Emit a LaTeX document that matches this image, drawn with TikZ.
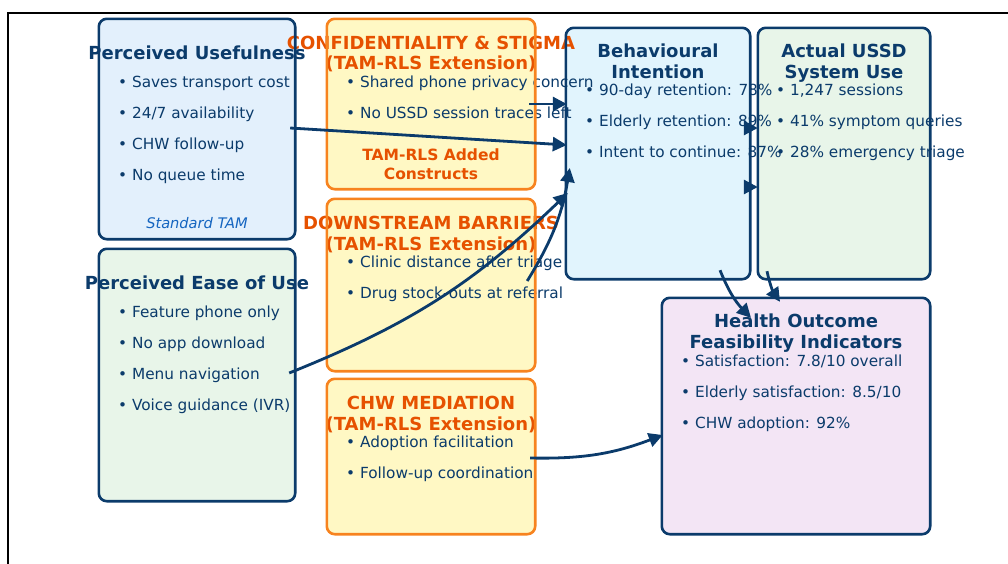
\documentclass[tikz,border=0pt]{standalone}
\usepackage{fontspec}
\setmainfont{DejaVu Sans}
\usetikzlibrary{arrows.meta,calc}
\definecolor{navy}{HTML}{0B3B6B}
\definecolor{orangeB}{HTML}{F7831F}
\definecolor{orangeT}{HTML}{E65100}
\definecolor{tamblue}{HTML}{1565C0}
\definecolor{fillPU}{HTML}{E3F0FC}
\definecolor{fillGreen}{HTML}{E8F5E9}
\definecolor{fillBI}{HTML}{E1F4FD}
\definecolor{fillHO}{HTML}{F3E5F5}
\definecolor{fillY}{HTML}{FFF8C4}
\begin{document}
\begin{tikzpicture}[x=1pt,y=-1pt,
  fbox/.style={rounded corners=8pt, inner sep=0pt},
  nborder/.style={draw=navy, line width=2.6pt, rounded corners=8pt},
  oborder/.style={draw=orangeB, line width=2.6pt, rounded corners=8pt},
  ttl/.style={font=\fontsize{18}{21}\selectfont\bfseries, text=navy, anchor=base, inner sep=0pt},
  otl/.style={ttl, text=orangeT},
  sub/.style={font=\fontsize{15.5}{18}\selectfont\bfseries, text=orangeT, anchor=base, inner sep=0pt},
  itm/.style={font=\fontsize{15.3}{18}\selectfont, text=navy, anchor=base west, inner sep=0pt},
  note/.style={font=\fontsize{14.6}{18}\selectfont\itshape, text=tamblue, anchor=base, inner sep=0pt},
  arr/.style={draw=navy, line width=2.8pt, -{Triangle[length=14pt,width=14pt]}}]
\useasboundingbox (0,0) rectangle (1008,563);
\draw[line width=1.4pt, black] (1010,13) -- (8,13) -- (8,565);

% box fills
\node[fbox, fill=fillPU, minimum width=196pt, minimum height=220pt] (pu) at (197,129) {};
\node[fbox, fill=fillGreen, minimum width=196pt, minimum height=252pt] (peou) at (197,375) {};
\node[fbox, fill=fillY, minimum width=208pt, minimum height=170pt] (conf) at (431,104) {};
\node[fbox, fill=fillY, minimum width=208pt, minimum height=172pt] (down) at (431,285) {};
\node[fbox, fill=fillY, minimum width=208pt, minimum height=155pt] (chw) at (431,456.5) {};
\node[fbox, fill=fillBI, minimum width=184pt, minimum height=251pt] (bi) at (658,153.5) {};
\node[fbox, fill=fillGreen, minimum width=172pt, minimum height=251pt] (au) at (844,153.5) {};
\node[fbox, fill=fillHO, minimum width=268pt, minimum height=236pt] (ho) at (796,416) {};

% Perceived Usefulness
\node[ttl] (puT) at (197,59) {Perceived Usefulness};
\node[itm] (pu1) at (118,87) {• Saves transport cost};
\node[itm] (pu2) at (118,118) {• 24/7 availability};
\node[itm] (pu3) at (118,149) {• CHW follow-up};
\node[itm] (pu4) at (118,180) {• No queue time};
\node[note] (puN) at (197,228) {Standard TAM};

% Perceived Ease of Use
\node[ttl] (peouT) at (197,289) {Perceived Ease of Use};
\node[itm] (pe1) at (118,317) {• Feature phone only};
\node[itm] (pe2) at (118,348) {• No app download};
\node[itm] (pe3) at (118,379) {• Menu navigation};
\node[itm] (pe4) at (118,410) {• Voice guidance (IVR)};

% Confidentiality
\node[otl] (confT1) at (431,49) {CONFIDENTIALITY \& STIGMA};
\node[otl] (confT2) at (431,69) {(TAM-RLS Extension)};
\node[itm] (cf1) at (346,87) {• Shared phone privacy concern};
\node[itm] (cf2) at (346,118) {• No USSD session traces left};
\node[sub] (add1) at (431,160) {TAM-RLS Added};
\node[sub] (add2) at (431,179) {Constructs};

% Downstream barriers
\node[otl] (downT1) at (431,229) {DOWNSTREAM BARRIERS};
\node[otl] (downT2) at (431,250) {(TAM-RLS Extension)};
\node[itm] (dn1) at (346,267) {• Clinic distance after triage};
\node[itm] (dn2) at (346,298) {• Drug stock-outs at referral};

% CHW mediation
\node[otl] (chwT1) at (431,409) {CHW MEDIATION};
\node[otl] (chwT2) at (431,430) {(TAM-RLS Extension)};
\node[itm] (ch1) at (346,447) {• Adoption facilitation};
\node[itm] (ch2) at (346,478) {• Follow-up coordination};

% Behavioural Intention
\node[ttl] (biT1) at (658,57) {Behavioural};
\node[ttl] (biT2) at (658,78) {Intention};
\node[itm] (bi1) at (585,95) {• 90-day retention: 78\%};
\node[itm] (bi2) at (585,126) {• Elderly retention: 89\%};
\node[itm] (bi3) at (585,157) {• Intent to continue: 87\%};

% Actual use
\node[ttl] (auT1) at (844,57) {Actual USSD};
\node[ttl] (auT2) at (844,78) {System Use};
\node[itm] (au1) at (776,95) {• 1,247 sessions};
\node[itm] (au2) at (776,126) {• 41\% symptom queries};
\node[itm] (au3) at (776,157) {• 28\% emergency triage};

% Health outcome
\node[ttl] (hoT1) at (796,327) {Health Outcome};
\node[ttl] (hoT2) at (796,348) {Feasibility Indicators};
\node[itm] (ho1) at (681,366) {• Satisfaction: 7.8/10 overall};
\node[itm] (ho2) at (681,397) {• Elderly satisfaction: 8.5/10};
\node[itm] (ho3) at (681,428) {• CHW adoption: 92\%};

% box borders (drawn over the texts, as in the reference)
\draw[nborder] (pu.north west) rectangle (pu.south east);
\draw[nborder] (peou.north west) rectangle (peou.south east);
\draw[oborder] (conf.north west) rectangle (conf.south east);
\draw[oborder] (down.north west) rectangle (down.south east);
\draw[oborder] (chw.north west) rectangle (chw.south east);
\draw[nborder] (bi.north west) rectangle (bi.south east);
\draw[nborder] (au.north west) rectangle (au.south east);
\draw[nborder] (ho.north west) rectangle (ho.south east);

% connectors
\draw[arr] ($(conf.east)+(-6,0)$) -- ($(bi.west |- conf.east)+(1,0)$);
\draw[arr] ($(pu.east)+(-5,-1)$) -- ($(bi.west)+(1,-8.5)$);
\draw[arr] ($(peou.east)+(-6,-2)$) to[bend right=11] ($(bi.west)+(2,39.5)$);
\draw[arr] ($(down.east)+(-8,-4)$) to[bend right=11] ($(bi.west)+(4,14.5)$);
\draw[arr] ($(bi.east)+(-6,-25.5)$) -- ($(au.west)+(0,-25.5)$);
\draw[arr] ($(bi.east)+(-6,33.5)$) -- ($(au.west)+(0,33.5)$);
\draw[arr] ($(bi.south)+(62,-9)$) to[bend right=11] ($(ho.north)+(-45,20)$);
\draw[arr] ($(au.south)+(-77,-8)$) to[bend right=11] ($(ho.north)+(-16,4)$);
\draw[arr] ($(chw.east)+(-5,1.5)$) to[bend right=11] ($(ho.west)+(1,19)$);
\end{tikzpicture}
\end{document}
